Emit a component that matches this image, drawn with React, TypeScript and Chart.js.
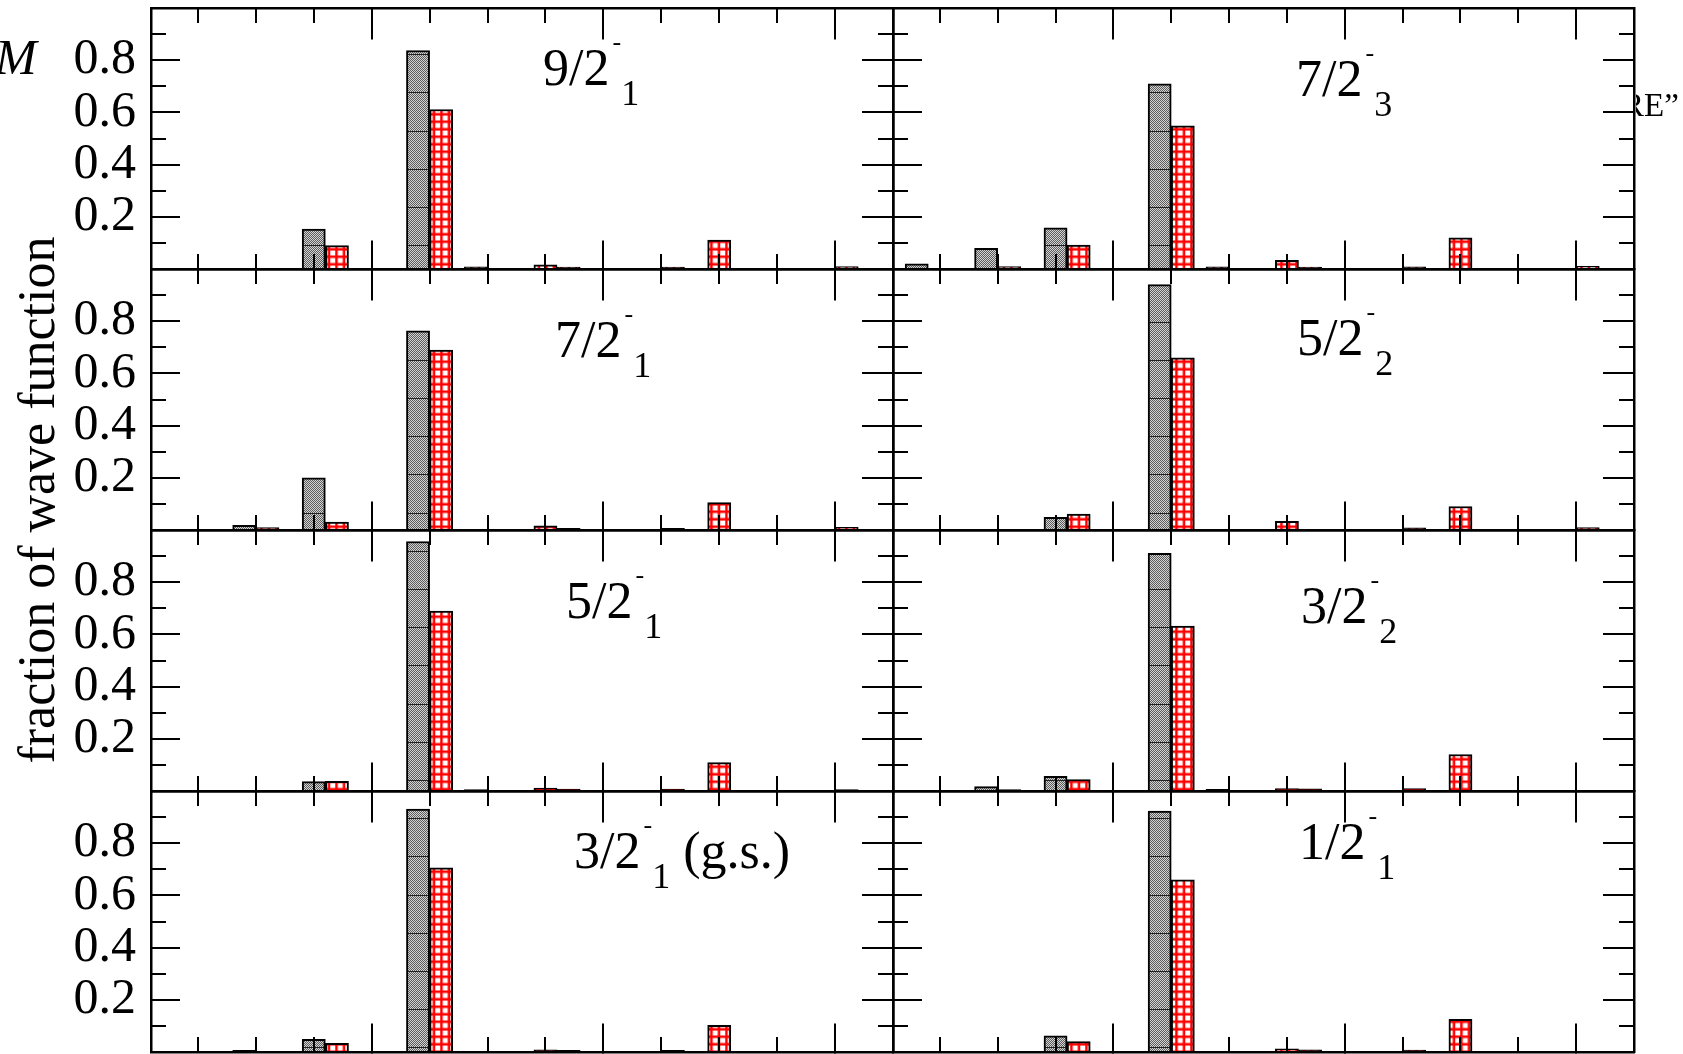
import React, { useEffect, useRef } from 'react';
import { Chart, registerables } from 'chart.js';

Chart.register(...registerables);

// ---------------- data ----------------
// x positions of the bars (configuration axis)
const GRAY_X = [0.6, 1.8, 3.0, 4.8];
const RED_X = [2.2, 3.4, 5.2, 5.8, 7.0, 7.4, 9.2, 10.0, 12.2];

const X_MIN = 0.19;
const X_MAX = 13;
const X_MAJOR_TICKS = [4, 8, 12];
const X_MINOR_TICKS = [1, 2, 3, 4, 5, 6, 7, 8, 9, 10, 11, 12];
const Y_MAJOR_TICKS = [0.2, 0.4, 0.6, 0.8];
const Y_MINOR_TICKS = [0.1, 0.2, 0.3, 0.4, 0.5, 0.6, 0.7, 0.8, 0.9];
const Y_TICK_LABELS = ['0.2', '0.4', '0.6', '0.8'];

const GRAY_9_2_1 = [0, 0, 0.153, 0.837];
const RED_9_2_1 = [0, 0.09, 0.611, 0.008, 0.016, 0.007, 0.007, 0.111, 0.009];
const GRAY_7_2_3 = [0.02, 0.079, 0.158, 0.709];
const RED_7_2_3 = [0.009, 0.092, 0.549, 0.008, 0.033, 0.007, 0.008, 0.119, 0.01];
const GRAY_7_2_1 = [0, 0.018, 0.2, 0.763];
const RED_7_2_1 = [0.009, 0.03, 0.689, 0, 0.016, 0.006, 0.006, 0.105, 0.01];
const GRAY_5_2_2 = [0, 0, 0.049, 0.94];
const RED_5_2_2 = [0, 0.061, 0.66, 0, 0.033, 0, 0.008, 0.09, 0.009];
const GRAY_5_2_1 = [0, 0, 0.036, 0.956];
const RED_5_2_1 = [0, 0.037, 0.689, 0.005, 0.011, 0.007, 0.007, 0.109, 0.005];
const GRAY_3_2_2 = [0, 0.017, 0.056, 0.911];
const RED_3_2_2 = [0.005, 0.044, 0.632, 0.006, 0.009, 0.008, 0.009, 0.14, 0];
const GRAY_3_2_1 = [0, 0.006, 0.049, 0.931];
const RED_3_2_1 = [0, 0.033, 0.706, 0, 0.008, 0.006, 0.006, 0.102, 0];
const GRAY_1_2_1 = [0, 0, 0.062, 0.923];
const RED_1_2_1 = [0, 0.04, 0.66, 0, 0.012, 0.008, 0.007, 0.125, 0];

const STATE_MAIN = ['9/2', '7/2', '7/2', '5/2', '5/2', '3/2', '3/2', '1/2'];
const STATE_SUB = ['1', '3', '1', '2', '1', '2', '1', '1'];
const STATE_SUFFIX = ['', '', '', '', '', '', ' (g.s.)', ''];

const PANEL_GRAY = [GRAY_9_2_1, GRAY_7_2_3, GRAY_7_2_1, GRAY_5_2_2, GRAY_5_2_1, GRAY_3_2_2, GRAY_3_2_1, GRAY_1_2_1];
const PANEL_RED = [RED_9_2_1, RED_7_2_3, RED_7_2_1, RED_5_2_2, RED_5_2_1, RED_3_2_2, RED_3_2_1, RED_1_2_1];

const Y_TITLE = 'fraction of wave function';

// ---------------- layout ----------------
const COL_X = [151, 893, 1634];
const ROW_Y = [8, 269, 530, 791, 1052];
const M = 3;
const LABEL_POS: [number, number][] = [
  [543, 86], [1296, 97],
  [555, 358], [1297, 356],
  [566, 619], [1301, 624],
  [574, 869], [1299, 860],
];
const SERIF = '"Liberation Serif", "Times New Roman", serif';

const mod = (a: number, n: number) => ((a % n) + n) % n;

function makeGrayPattern(offX: number, offY: number) {
  const c = document.createElement('canvas');
  c.width = 2;
  c.height = 191;
  const g = c.getContext('2d')!;
  g.fillStyle = '#d4d4d4';
  g.fillRect(0, 0, 2, 191);
  g.fillStyle = '#5c5c5c';
  for (let y = 0; y < 191; y++) g.fillRect(y % 2, y, 1, 1);
  g.fillStyle = '#222';
  for (let k = 0; k < 5; k++) g.fillRect(0, Math.round(k * 38.2), 2, 1);
  const p = g.createPattern(c, 'repeat')!;
  p.setTransform(new DOMMatrix([1, 0, 0, 1, 0, Math.round(mod(15.9 - offY, 191))]));
  return p;
}

function makeRedPattern(offX: number, offY: number) {
  const c = document.createElement('canvas');
  c.width = 15;
  c.height = 15;
  const g = c.getContext('2d')!;
  g.fillStyle = '#fff';
  g.fillRect(0, 0, 15, 15);
  g.fillStyle = '#ff0000';
  g.fillRect(0, 0, 2.5, 15);
  g.fillRect(7.5, 0, 2.5, 15);
  g.fillRect(0, 0, 15, 2.5);
  g.fillRect(0, 7.5, 15, 2.5);
  const p = g.createPattern(c, 'repeat')!;
  p.setTransform(new DOMMatrix([1, 0, 0, 1, mod(5.2 - offX, 15), mod(0.5 - offY, 15)]));
  return p;
}

function tickAxis(axis: 'x' | 'y', position: any, ticks: number[], len: number, border: boolean) {
  return {
    type: 'linear',
    axis,
    position,
    min: axis === 'x' ? X_MIN : 0,
    max: axis === 'x' ? X_MAX : 1,
    bounds: 'data',
    offset: false,
    display: true,
    ticks: { display: false },
    grid: {
      display: true,
      offset: false,
      drawOnChartArea: false,
      drawTicks: true,
      tickLength: len,
      tickWidth: 2,
      tickColor: '#000',
      lineWidth: 2,
      color: '#000',
      z: 1,
    },
    border: { display: border, width: 2.5, color: '#000', z: 1 },
    afterBuildTicks: (s: any) => {
      s.ticks = ticks.map((v) => ({ value: v }));
    },
  };
}

function Panel({ index }: { index: number }) {
  const ref = useRef<HTMLCanvasElement>(null);
  const col = index % 2;
  const row = Math.floor(index / 2);
  const left = col === 0 ? 0 : COL_X[1] - M;
  const right = COL_X[col + 1] + M;
  const top = ROW_Y[row] - M;
  const bottom = ROW_Y[row + 1] + M;
  const w = right - left;
  const h = bottom - top;

  useEffect(() => {
    const canvas = ref.current!;
    const gray = PANEL_GRAY[index];
    const red = PANEL_RED[index];
    const chart = new Chart(canvas, {
      type: 'bar',
      data: {
        datasets: [
          {
            label: 'gray',
            data: GRAY_X.map((x, i) => ({ x, y: gray[i] })),
            backgroundColor: makeGrayPattern(left, top),
            borderColor: '#000',
            borderWidth: 2,
            xAxisID: 'x',
            yAxisID: 'y',
          },
          {
            label: 'red',
            data: RED_X.map((x, i) => ({ x, y: red[i] })),
            backgroundColor: makeRedPattern(left, top),
            borderColor: '#000',
            borderWidth: 2,
            xAxisID: 'x',
            yAxisID: 'y',
          },
        ],
      } as any,
      options: {
        responsive: false,
        animation: false,
        events: [],
        layout: { padding: { left: col === 0 ? 0 : M, right: M, top: M, bottom: M } },
        plugins: { legend: { display: false }, tooltip: { enabled: false }, title: { display: false } },
        datasets: {
          bar: { grouped: false, categoryPercentage: 1, barPercentage: 1, borderSkipped: 'start' },
        },
        scales: {
          x: {
            type: 'linear',
            min: X_MIN,
            max: X_MAX,
            bounds: 'data',
            offset: false,
            display: false,
            grid: { offset: false },
          },
          y: {
            type: 'linear',
            position: 'left',
            min: 0,
            max: 1,
            bounds: 'data',
            display: col === 0,
            grid: { display: false, drawTicks: false },
            border: { display: false },
            ticks: {
              display: true,
              autoSkip: false,
              padding: 15,
              color: '#000',
              font: { family: SERIF, size: 50 },
              callback: (_v: any, i: number) => Y_TICK_LABELS[i],
            },
            afterBuildTicks: (s: any) => {
              s.ticks = Y_MAJOR_TICKS.map((v) => ({ value: v }));
            },
            afterFit: (s: any) => {
              if (col === 0) {
                s.width = COL_X[0];
                s.paddingTop = 0;
                s.paddingBottom = 0;
              }
            },
          },
          xb1: tickAxis('x', { y: 0 }, X_MINOR_TICKS, -15, false),
          xb2: tickAxis('x', { y: 0 }, X_MAJOR_TICKS, -30, true),
          xt1: tickAxis('x', { y: 1 }, X_MINOR_TICKS, 15, false),
          xt2: tickAxis('x', { y: 1 }, X_MAJOR_TICKS, 30, true),
          yl1: tickAxis('y', { x: X_MIN }, Y_MINOR_TICKS, -15, false),
          yl2: tickAxis('y', { x: X_MIN }, Y_MAJOR_TICKS, -30, true),
          yr1: tickAxis('y', { x: X_MAX }, Y_MINOR_TICKS, 15, false),
          yr2: tickAxis('y', { x: X_MAX }, Y_MAJOR_TICKS, 30, true),
        },
      } as any,
    });
    return () => chart.destroy();
  }, []);

  return (
    <canvas
      ref={ref}
      width={w}
      height={h}
      style={{ position: 'absolute', left, top, width: w, height: h }}
    />
  );
}

function StateLabel({ index }: { index: number }) {
  const [x, base] = LABEL_POS[index];
  return (
    <div
      style={{
        position: 'absolute',
        left: x,
        top: base - 0.8375 * 52,
        fontFamily: SERIF,
        fontSize: 52,
        lineHeight: '52px',
        whiteSpace: 'nowrap',
        color: '#000',
      }}
    >
      {STATE_MAIN[index]}
      <span style={{ fontSize: 26, lineHeight: 0, position: 'relative', top: -35.5, marginLeft: 3 }}>-</span>
      <span style={{ fontSize: 36, lineHeight: 0, position: 'relative', top: 20 }}>{STATE_SUB[index]}</span>
      {STATE_SUFFIX[index]}
    </div>
  );
}

export default function App() {
  return (
    <div
      style={{
        position: 'absolute',
        left: 0,
        top: 0,
        width: 1683,
        height: 1054,
        background: '#fff',
        overflow: 'hidden',
      }}
    >
      {PANEL_GRAY.map((_, i) => (
        <Panel key={i} index={i} />
      ))}
      {PANEL_GRAY.map((_, i) => (
        <StateLabel key={'l' + i} index={i} />
      ))}
      <div
        style={{
          position: 'absolute',
          left: 37 - 300,
          top: 500 - 26,
          width: 600,
          height: 52,
          lineHeight: '52px',
          textAlign: 'center',
          fontFamily: SERIF,
          fontSize: 52,
          whiteSpace: 'nowrap',
          transform: 'rotate(-90deg)',
          color: '#000',
        }}
      >
        {Y_TITLE}
      </div>
      <div
        style={{
          position: 'absolute',
          left: -5,
          top: 74 - 0.8375 * 50,
          fontFamily: SERIF,
          fontSize: 50,
          lineHeight: '50px',
          fontStyle: 'italic',
          color: '#000',
        }}
      >
        M
      </div>
      <div style={{ position: 'absolute', left: 1636, top: 80, width: 47, height: 45, overflow: 'hidden' }}>
        <div
          style={{
            position: 'absolute',
            left: -14,
            top: 117 - 80 - 0.8375 * 33,
            fontFamily: SERIF,
            fontSize: 33,
            lineHeight: '33px',
            whiteSpace: 'nowrap',
            color: '#000',
          }}
        >
          RE”
        </div>
      </div>
    </div>
  );
}
